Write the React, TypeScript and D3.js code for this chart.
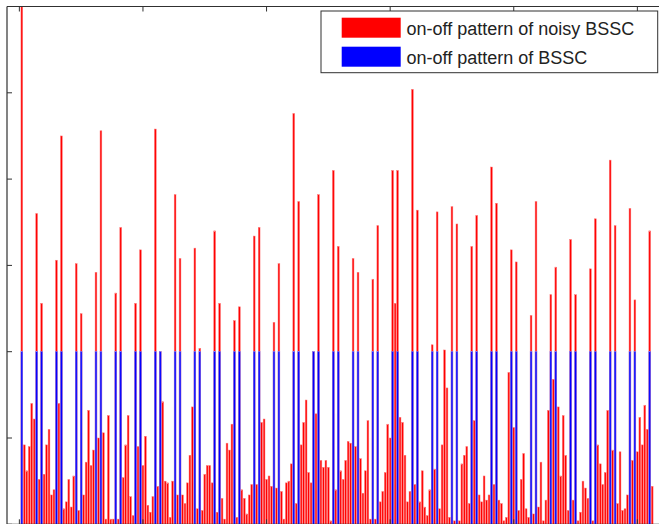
import React from "react";
import * as d3 from "d3";

// noisy on-off pattern values, positions 1..256
const noisy: number[] = [
  3.0, 0.46, 0.31, 0.45, 0.70, 0.61, 1.80, 0.26,
  1.28, 0.29, 0.46, 0.55, 0.17, 0.20, 1.53, 0.70,
  2.25, 0.09, 0.13, 0.26, 0.10, 0.28, 1.51, 0.08,
  1.22, 0.17, 0.36, 0.66, 0.34, 0.43, 1.46, 0.50,
  2.28, 0.53, 0.03, 0.63, 0.03, 0.03, 1.34, 0.03,
  1.72, 0.27, 0.46, 0.63, 0.16, 0.05, 1.28, 0.45,
  1.59, 0.34, 0.51, 0.11, 0.07, 0.16, 2.29, 0.22,
  1.0, 0.71, 0.25, 0.24, 0.04, 0.25, 1.91, 0.17,
  1.54, 0.17, 0.12, 0.24, 0.40, 0.68, 1.60, 0.09,
  1.02, 0.08, 0.29, 0.34, 0.34, 0.24, 1.70, 0.07,
  1.28, 0.15, 0.03, 0.47, 0.43, 0.58, 1.18, 0.04,
  1.26, 0.20, 0.15, 0.06, 0.17, 0.23, 1.67, 0.23,
  1.72, 0.59, 0.61, 0.26, 0.28, 0.22, 1.17, 0.21,
  1.51, 0.19, 0.03, 0.24, 0.25, 0.35, 2.38, 0.12,
  1.87, 0.46, 0.59, 0.72, 0.30, 0.24, 1.0, 0.64,
  1.91, 0.37, 0.33, 0.37, 0.33, 0.02, 2.05, 0.20,
  1.61, 0.31, 0.26, 0.37, 0.48, 0.47, 1.54, 0.45,
  1.46, 0.38, 0.18, 0.31, 0.60, 0.03, 1.42, 0.03,
  1.73, 0.13, 0.19, 0.30, 0.58, 0.50, 2.05, 1.28,
  2.05, 0.62, 0.59, 0.40, 0.13, 0.19, 2.52, 0.23,
  1.82, 0.13, 0.31, 0.10, 0.05, 0.20, 1.04, 0.32,
  1.81, 0.09, 0.46, 1.01, 0.79, 0.04, 1.84, 0.02,
  1.74, 0.02, 0.35, 0.40, 0.45, 0.12, 1.61, 0.60,
  1.79, 0.17, 0.13, 0.28, 0.14, 0.17, 2.07, 0.23,
  1.86, 0.14, 0.12, 0.02, 0.04, 0.88, 1.59, 0.56,
  1.52, 0.08, 0.26, 0.41, 0.09, 0.04, 1.21, 0.06,
  1.87, 0.10, 0.36, 0.02, 0.14, 0.66, 1.33, 0.84,
  1.49, 0.68, 0.28, 0.63, 0.40, 0.08, 1.65, 0.14,
  1.33, 0.02, 0.07, 0.25, 0.21, 0.15, 1.48, 0.02,
  1.77, 0.46, 0.35, 0.23, 0.30, 0.66, 2.11, 0.43,
  1.73, 0.12, 0.42, 0.08, 0.09, 0.17, 1.83, 0.37,
  1.30, 0.42, 0.62, 0.46, 0.69, 0.55, 1.70, 0.22,
];

// clean on-off pattern, positions 1..256
const pattern: number[] = [
  1, 0, 0, 0, 0, 0, 1, 0, 1, 0, 0, 0, 0, 0, 1, 0,
  1, 0, 0, 0, 0, 0, 1, 0, 1, 0, 0, 0, 0, 0, 1, 0,
  1, 0, 0, 0, 0, 0, 1, 0, 1, 0, 0, 0, 0, 0, 1, 0,
  1, 0, 0, 0, 0, 0, 1, 0, 1, 0, 0, 0, 0, 0, 1, 0,
  1, 0, 0, 0, 0, 0, 1, 0, 1, 0, 0, 0, 0, 0, 1, 0,
  1, 0, 0, 0, 0, 0, 1, 0, 1, 0, 0, 0, 0, 0, 1, 0,
  1, 0, 0, 0, 0, 0, 1, 0, 1, 0, 0, 0, 0, 0, 1, 0,
  1, 0, 0, 0, 0, 0, 1, 0, 1, 0, 0, 0, 0, 0, 1, 0,
  1, 0, 0, 0, 0, 0, 1, 0, 1, 0, 0, 0, 0, 0, 1, 0,
  1, 0, 0, 0, 0, 0, 1, 0, 1, 0, 0, 0, 0, 0, 1, 0,
  1, 0, 0, 0, 0, 0, 1, 0, 1, 0, 0, 0, 0, 0, 1, 0,
  1, 0, 0, 0, 0, 0, 1, 0, 1, 0, 0, 0, 0, 0, 1, 0,
  1, 0, 0, 0, 0, 0, 1, 0, 1, 0, 0, 0, 0, 0, 1, 0,
  1, 0, 0, 0, 0, 0, 1, 0, 1, 0, 0, 0, 0, 0, 1, 0,
  1, 0, 0, 0, 0, 0, 1, 0, 1, 0, 0, 0, 0, 0, 1, 0,
  1, 0, 0, 0, 0, 0, 1, 0, 1, 0, 0, 0, 0, 0, 1, 0,
];

const xTicks: number[] = [0, 50, 100, 150, 200, 250];
const yTicks: number[] = [0, 0.5, 1, 1.5, 2, 2.5, 3];
const legendLabels: string[] = ["on-off pattern of noisy BSSC", "on-off pattern of BSSC"];
const legendColors: string[] = ["#ff0000", "#0000ff"];
const barEdges: string[] = ["#ff7a7a", "#7a7aff"];

const W = 659;
const H = 524;
const left = 7;
const top = 6.5;
const bottom = 524.3;
const unit = 2.472;
const right = left + 266 * unit;

export default function App() {
  const x = d3.scaleLinear().domain([-5, 261]).range([left, right]);
  const y = d3.scaleLinear().domain([0, 3]).range([bottom, top]);
  const bw = 0.72 * unit;
  const positions = d3.range(1, noisy.length + 1);
  const axisColor = "#303030";
  const tickLen = 5;

  return (
    <svg
      width={W}
      height={H}
      style={{ position: "absolute", left: 0, top: 0, background: "#fff" }}
    >
      <defs>
        <clipPath id="plot">
          <rect x={left} y={top} width={right - left} height={bottom - top} />
        </clipPath>
      </defs>
      <rect x={0} y={0} width={W} height={H} fill="#fff" />
      <g clipPath="url(#plot)">
        {positions.map((p, i) => (
          <rect
            key={"r" + p}
            x={x(p) - bw / 2}
            y={y(Math.min(noisy[i], 3.05))}
            width={bw}
            height={y(0) - y(Math.min(noisy[i], 3.05))}
            fill={legendColors[0]}
            stroke={barEdges[0]}
            strokeWidth={0.5}
          />
        ))}
        {positions.map((p, i) =>
          pattern[i] ? (
            <rect
              key={"b" + p}
              x={x(p) - bw / 2}
              y={y(pattern[i])}
              width={bw}
              height={y(0) - y(pattern[i])}
              fill={legendColors[1]}
              stroke={barEdges[1]}
              strokeWidth={0.5}
            />
          ) : null
        )}
      </g>
      {/* axes box */}
      <line x1={left} x2={right} y1={top} y2={top} stroke={axisColor} strokeWidth={1.2} />
      <line x1={left} x2={right} y1={bottom} y2={bottom} stroke={axisColor} strokeWidth={1.2} />
      <line x1={left} x2={left} y1={top} y2={bottom} stroke={axisColor} strokeWidth={1.2} />
      <line x1={right} x2={right} y1={top} y2={bottom} stroke={axisColor} strokeWidth={1.2} />
      {xTicks.map((t) => (
        <g key={"xt" + t}>
          <line x1={x(t)} x2={x(t)} y1={top} y2={top + tickLen} stroke={axisColor} strokeWidth={1} />
          <line x1={x(t)} x2={x(t)} y1={bottom} y2={bottom - tickLen} stroke={axisColor} strokeWidth={1} />
        </g>
      ))}
      {yTicks.map((t) => (
        <g key={"yt" + t}>
          <line x1={left} x2={left + tickLen} y1={y(t)} y2={y(t)} stroke={axisColor} strokeWidth={1} />
          <line x1={right} x2={right - tickLen} y1={y(t)} y2={y(t)} stroke={axisColor} strokeWidth={1} />
        </g>
      ))}
      {/* legend */}
      <rect x={321} y={11} width={336.7} height={61.7} fill="#fff" stroke={axisColor} strokeWidth={1} />
      {legendLabels.map((lab, i) => (
        <g key={lab}>
          <rect x={341.7} y={17.7 + i * 29} width={59} height={20} fill={legendColors[i]} />
          <text
            x={406.5}
            y={34.5 + i * 29}
            fontFamily="'Liberation Sans', Arial, Helvetica, sans-serif"
            fontSize={18}
            fill="#222"
          >
            {lab}
          </text>
        </g>
      ))}
    </svg>
  );
}
